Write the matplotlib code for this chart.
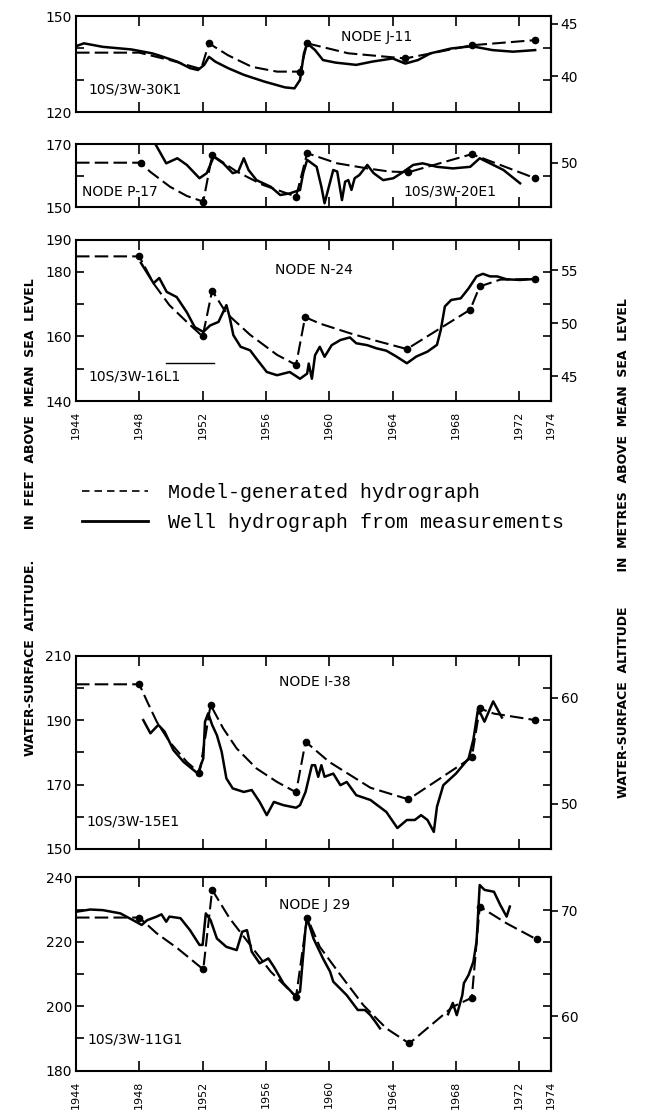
import matplotlib.pyplot as plt
import numpy as np
from matplotlib.lines import Line2D

# ---- NODE J-11  (well 10S/3W-30K1) ----
j11_model_yr = [1944.0, 1948.0, 1950.0, 1951.9, 1952.4, 1953.6, 1955.1, 1956.7, 1958.15, 1958.6, 1961.2, 1964.8, 1969.0, 1973.0]
j11_model_ft = [138.6, 138.6, 136.2, 133.5, 141.5, 137.8, 134.2, 132.7, 132.7, 141.5, 138.4, 136.8, 140.9, 142.5]
j11_dots = [4, 8, 9, 11, 12, 13]
j11_meas_yr = [1944.0, 1944.5, 1945.7, 1947.5, 1948.8, 1949.2, 1949.5, 1950.4, 1951.2, 1951.7, 1952.1, 1952.4,
               1952.8, 1953.6, 1954.6, 1955.9, 1957.2, 1957.8, 1958.15, 1958.4, 1958.6, 1959.1, 1959.6, 1960.4,
               1961.7, 1962.7, 1964.0, 1964.8, 1965.6, 1966.4, 1967.7, 1969.0, 1970.3, 1971.6, 1973.0]
j11_meas_ft = [140.6, 141.5, 140.4, 139.6, 138.4, 137.8, 137.3, 135.8, 133.8, 133.2, 134.8, 137.3,
               135.8, 133.8, 131.7, 129.6, 127.8, 127.5, 130.1, 138.4, 141.5, 139.4, 136.3, 135.5,
               134.8, 135.8, 136.8, 135.2, 136.3, 138.4, 139.9, 140.6, 139.4, 138.9, 139.4]

# ---- NODE P-17  (well 10S/3W-20E1) ----
p17_model_yr = [1944.0, 1948.1, 1948.67, 1949.94, 1951.0, 1952.04, 1952.6, 1954.15, 1955.8, 1957.9, 1958.6,
                1960.5, 1962.4, 1963.8, 1965.0, 1969.0, 1973.0]
p17_model_ft = [164.1, 164.1, 161.3, 156.5, 153.6, 151.8, 166.5, 161.3, 157.1, 153.4, 167.1,
                163.9, 162.3, 161.3, 161.1, 166.8, 159.2]
p17_dots = [1, 5, 6, 9, 10, 14, 15, 16]
p17_meas_yr = [1948.9, 1949.7, 1950.4, 1951.0, 1951.8, 1952.26, 1952.7, 1953.3, 1953.9, 1954.25, 1954.6, 1954.9,
               1955.4, 1956.3, 1956.9, 1957.5, 1958.15, 1958.35, 1958.6, 1959.2, 1959.5, 1959.7, 1960.25, 1960.5,
               1960.8, 1961.0, 1961.2, 1961.4, 1961.6, 1961.9, 1962.4, 1962.8, 1963.4, 1964.05, 1964.7, 1965.3,
               1965.9, 1966.8, 1967.8, 1968.9, 1969.5, 1970.15, 1971.0, 1972.05]
p17_meas_ft = [171.0, 163.9, 165.5, 163.4, 159.2, 160.8, 166.0, 163.9, 160.8, 161.3, 165.5, 161.8,
               158.6, 156.5, 153.9, 154.4, 155.5, 160.8, 165.0, 162.8, 156.5, 151.3, 161.8, 161.3,
               152.3, 158.1, 158.6, 155.5, 159.2, 160.2, 163.4, 160.8, 158.6, 159.2, 161.3, 163.4,
               163.9, 162.8, 162.3, 162.8, 165.5, 163.9, 161.8, 157.6]

# ---- NODE N-24  (well 10S/3W-16L1) ----
n24_model_yr = [1944.0, 1948.0, 1948.9, 1949.9, 1951.0, 1952.0, 1952.6, 1953.5, 1955.0, 1956.7, 1957.9, 1958.47,
                1959.4, 1961.3, 1963.0, 1964.9, 1968.9, 1969.5, 1970.8, 1973.0]
n24_model_ft = [184.8, 184.8, 176.4, 169.7, 164.5, 160.0, 174.2, 167.2, 160.5, 154.3, 151.2, 166.0,
                164.0, 161.0, 158.6, 156.1, 168.3, 175.5, 177.6, 177.8]
n24_dots = [1, 5, 6, 10, 11, 15, 16, 17, 19]
n24_meas_yr = [1948.1, 1948.9, 1949.26, 1949.73, 1950.36, 1951.0, 1951.5, 1952.04, 1952.47, 1953.0, 1953.5, 1953.7,
               1953.94, 1954.4, 1955.0, 1955.4, 1956.05, 1956.7, 1957.1, 1957.5, 1958.15, 1958.6, 1958.7, 1958.9,
               1959.1, 1959.4, 1959.7, 1960.15, 1960.7, 1961.3, 1961.7, 1962.4, 1963.0, 1963.6, 1964.2, 1964.9,
               1965.5, 1966.2, 1966.8, 1967.04, 1967.3, 1967.7, 1968.3, 1968.8, 1969.3, 1969.7, 1970.15, 1970.6,
               1971.2, 1972.05, 1973.0]
n24_meas_ft = [182.8, 176.5, 178.1, 173.8, 172.2, 167.5, 162.9, 161.4, 163.4, 164.5, 169.7, 166.1,
               160.4, 156.8, 155.7, 153.1, 149.0, 148.0, 148.5, 149.0, 146.9, 148.5, 151.6, 146.9,
               154.2, 156.8, 153.7, 157.3, 158.9, 159.7, 157.9, 157.3, 156.3, 155.6, 153.9, 151.7,
               153.8, 155.3, 157.4, 162.0, 169.3, 171.3, 171.8, 174.9, 178.6, 179.4, 178.6, 178.6,
               177.7, 177.5, 177.8]
n24_bar_yr = [1949.7, 1952.7]
n24_bar_ft = [151.7, 151.7]

# ---- NODE I-38  (well 10S/3W-15E1) ----
i38_model_yr = [1944.0, 1948.0, 1948.5, 1949.1, 1949.9, 1951.0, 1951.8, 1952.5, 1953.3, 1954.15, 1955.4, 1956.7,
                1957.9, 1958.5, 1960.0, 1962.6, 1965.0, 1969.0, 1969.5, 1970.4, 1973.0]
i38_model_ft = [201.1, 201.1, 195.7, 189.5, 183.3, 177.0, 173.6, 194.7, 187.4, 181.2, 175.0, 170.8,
                167.6, 183.3, 177.0, 169.0, 165.4, 178.4, 193.6, 192.0, 190.0]
i38_dots = [1, 6, 7, 12, 13, 16, 17, 18, 20]
i38_meas_yr = [1948.25, 1948.7, 1949.2, 1949.6, 1950.15, 1950.8, 1951.7, 1952.04, 1952.15, 1952.35, 1952.6, 1952.9,
               1953.2, 1953.5, 1953.9, 1954.6, 1955.1, 1955.6, 1956.05, 1956.5, 1957.1, 1957.9, 1958.15, 1958.5,
               1958.9, 1959.1, 1959.3, 1959.5, 1959.7, 1960.25, 1960.7, 1961.1, 1961.7, 1962.6, 1963.6, 1964.3,
               1964.9, 1965.4, 1965.8, 1966.2, 1966.6, 1966.8, 1967.2, 1968.0, 1968.8, 1969.1, 1969.4, 1969.8,
               1970.35, 1970.9]
i38_meas_ft = [190.0, 185.9, 188.5, 186.4, 180.7, 177.0, 173.4, 178.1, 189.5, 192.1, 188.5, 185.3,
               180.2, 171.9, 168.8, 167.7, 168.3, 164.6, 160.5, 164.6, 163.6, 162.8, 163.6, 167.7,
               176.0, 176.0, 172.4, 176.0, 172.4, 173.4, 169.8, 170.8, 166.7, 165.2, 161.5, 156.5,
               159.0, 159.0, 160.5, 159.0, 155.3, 163.1, 169.8, 173.4, 178.1, 184.0, 193.6, 189.5,
               195.8, 190.8]

# ---- NODE J 29  (well 10S/3W-11G1) ----
j29_model_yr = [1944.0, 1948.0, 1949.1, 1950.4, 1952.04, 1952.6, 1953.7, 1955.0, 1956.3, 1957.9, 1958.6,
                1959.4, 1960.7, 1962.15, 1963.6, 1965.05, 1967.8, 1969.0, 1969.5, 1971.2, 1973.1]
j29_model_ft = [227.5, 227.5, 222.6, 218.0, 211.4, 236.1, 227.3, 219.0, 210.7, 202.9, 227.5,
                218.4, 209.7, 200.3, 193.1, 188.4, 199.8, 202.6, 230.9, 225.7, 220.7]
j29_dots = [1, 4, 5, 9, 10, 15, 17, 18, 20]
j29_meas_a_yr = [1944.0, 1944.9, 1945.7, 1946.8, 1947.6, 1948.15, 1948.5, 1949.1, 1949.4, 1949.7, 1949.9, 1950.6,
                 1951.2, 1951.8, 1952.0, 1952.2, 1952.5, 1952.9, 1953.5, 1954.15, 1954.5, 1954.8, 1955.1, 1955.6,
                 1956.15, 1956.5, 1957.1, 1957.8, 1958.15, 1958.5, 1958.6, 1959.0, 1959.6, 1960.05, 1960.25,
                 1961.1, 1961.8, 1962.25, 1962.6, 1962.9, 1963.2]
j29_meas_a_ft = [229.3, 230.0, 229.8, 228.8, 226.7, 225.2, 226.7, 227.8, 228.5, 226.2, 227.8, 227.3,
                 223.6, 219.0, 219.0, 228.8, 226.7, 221.0, 218.4, 217.4, 223.1, 223.6, 216.9, 213.3,
                 214.8, 212.2, 207.1, 203.4, 204.5, 224.2, 227.3, 221.0, 214.8, 210.7, 207.6,
                 203.4, 198.8, 198.8, 197.2, 195.2, 193.1]
j29_meas_b_yr = [1967.5, 1967.8, 1968.05, 1968.4, 1968.5, 1968.8, 1969.1, 1969.3, 1969.5, 1969.8, 1970.4,
                 1970.8, 1971.2, 1971.4]
j29_meas_b_ft = [197.5, 201.0, 197.2, 203.4, 207.1, 209.7, 213.8, 220.0, 237.6, 236.1, 235.5,
                 231.4, 227.8, 230.9]

year_ticks = [1944, 1948, 1952, 1956, 1960, 1964, 1968, 1972, 1974]
FT_TO_M = 0.3048

fig = plt.figure(figsize=(6.45, 11.19), dpi=100)

panels = [
    dict(rect=[0.1178, 0.8995, 0.7364, 0.0862], ylim=(120, 150),
         ft_ticks=[120, 130, 140, 150], ft_labels=['120', '', '', '150'], m_ticks=[40, 45],
         model=(j11_model_yr, j11_model_ft, j11_dots), meas=[(j11_meas_yr, j11_meas_ft)],
         node=('NODE J-11', 1963.0, 143.5, 'center'), well=('10S/3W-30K1', 1944.8, 127.0), years=False),
    dict(rect=[0.1178, 0.8147, 0.7364, 0.0566], ylim=(150, 170),
         ft_ticks=[150, 160, 170], ft_labels=['150', '', '170'], m_ticks=[50],
         model=(p17_model_yr, p17_model_ft, p17_dots), meas=[(p17_meas_yr, p17_meas_ft)],
         node=('NODE P-17', 1944.4, 155.0, 'left'), well=('10S/3W-20E1', 1964.7, 155.0), years=False),
    dict(rect=[0.1178, 0.6416, 0.7364, 0.1443], ylim=(140, 190),
         ft_ticks=[140, 150, 160, 170, 180, 190], ft_labels=['140', '', '160', '', '180', '190'],
         m_ticks=[45, 50, 55],
         model=(n24_model_yr, n24_model_ft, n24_dots), meas=[(n24_meas_yr, n24_meas_ft)],
         node=('NODE N-24', 1959.0, 180.7, 'center'), well=('10S/3W-16L1', 1944.8, 147.5), years=True),
    dict(rect=[0.1178, 0.2413, 0.7364, 0.1728], ylim=(150, 210),
         ft_ticks=[150, 160, 170, 180, 190, 200, 210], ft_labels=['150', '', '170', '', '190', '', '210'],
         m_ticks=[50, 60],
         model=(i38_model_yr, i38_model_ft, i38_dots), meas=[(i38_meas_yr, i38_meas_ft)],
         node=('NODE I-38', 1959.1, 201.9, 'center'), well=('10S/3W-15E1', 1944.65, 158.4), years=False),
    dict(rect=[0.1178, 0.0433, 0.7364, 0.1727], ylim=(180, 240),
         ft_ticks=[180, 190, 200, 210, 220, 230, 240], ft_labels=['180', '', '200', '', '220', '', '240'],
         m_ticks=[60, 70],
         model=(j29_model_yr, j29_model_ft, j29_dots),
         meas=[(j29_meas_a_yr, j29_meas_a_ft), (j29_meas_b_yr, j29_meas_b_ft)],
         node=('NODE J 29', 1959.1, 231.4, 'center'), well=('10S/3W-11G1', 1944.7, 189.5), years=True),
]

axes = []
for p in panels:
    ax = fig.add_axes(p['rect'])
    axes.append(ax)
    myr, mft, dots = p['model']
    ax.plot(myr, mft, color='black', lw=1.5, dashes=(6.5, 2.5),
            marker='o', markersize=4.5, markevery=dots)
    for yr, ft in p['meas']:
        ax.plot(yr, ft, color='black', lw=1.8, solid_joinstyle='round')
    ax.set_xlim(1944, 1974)
    ax.set_ylim(*p['ylim'])
    ax.set_xticks(year_ticks)
    if p['years']:
        ax.set_xticklabels([str(y) for y in year_ticks], rotation=90, fontsize=8)
    else:
        ax.tick_params(axis='x', labelbottom=False)
    ax.tick_params(axis='x', top=True, bottom=True, direction='in', length=7, width=1.2, pad=7)
    ax.set_yticks(p['ft_ticks'])
    ax.set_yticklabels(p['ft_labels'], fontsize=10)
    ax.tick_params(axis='y', left=True, right=True, direction='in', length=6, width=1.2, pad=3)
    for s in ax.spines.values():
        s.set_linewidth(1.5)

    # metre scale on the right
    sec = ax.secondary_yaxis('right', functions=(lambda f: f * FT_TO_M, lambda m: m / FT_TO_M))
    sec.set_yticks(p['m_ticks'])
    sec.set_yticklabels([str(m) for m in p['m_ticks']], fontsize=10)
    sec.tick_params(direction='out', length=5, width=1.2, pad=2)
    sec.spines['right'].set_linewidth(1.5)

    txt, tx, ty, ha = p['node']
    ax.text(tx, ty, txt, fontsize=10, ha=ha, va='center')
    txt, tx, ty = p['well']
    ax.text(tx, ty, txt, fontsize=10, ha='left', va='center')

axes[2].plot(n24_bar_yr, n24_bar_ft, color='black', lw=1.0)

fig.text(0.048, 0.538,
         'WATER-SURFACE  ALTITUDE.       IN  FEET  ABOVE  MEAN  SEA  LEVEL',
         rotation=90, ha='center', va='center', fontsize=9, fontweight='bold')
fig.text(0.966, 0.510,
         'WATER-SURFACE  ALTITUDE        IN  METRES  ABOVE  MEAN  SEA  LEVEL',
         rotation=90, ha='center', va='center', fontsize=9, fontweight='bold')

handles = [Line2D([], [], color='black', lw=1.2, dashes=(4.5, 3)),
           Line2D([], [], color='black', lw=2.0)]
fig.legend(handles, ['Model-generated hydrograph', 'Well hydrograph from measurements'],
           loc='upper left', bbox_to_anchor=(0.127, 0.568), frameon=False,
           prop={'family': 'Liberation Mono', 'size': 14.4},
           handlelength=3.3, handletextpad=1.0, labelspacing=0.55,
           borderpad=0, borderaxespad=0)

fig.savefig('out.png', dpi=100, facecolor='white')
